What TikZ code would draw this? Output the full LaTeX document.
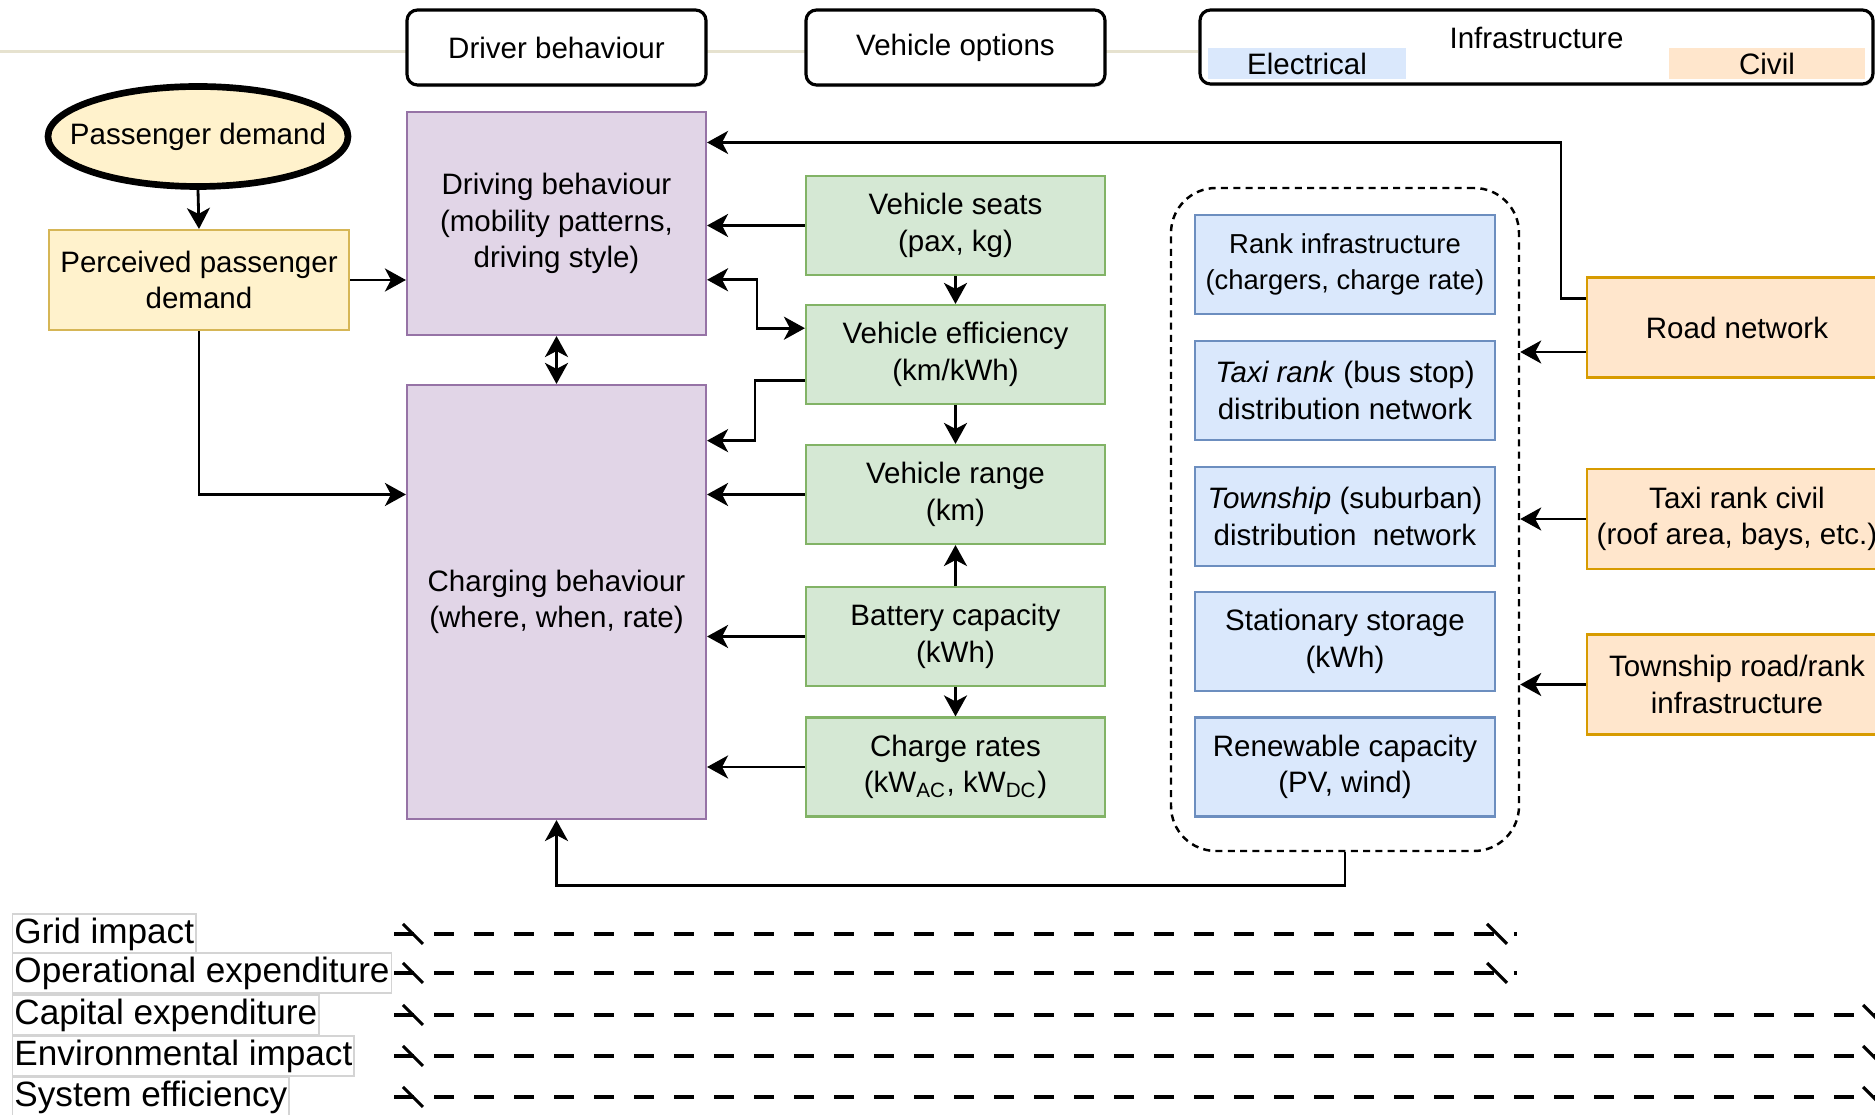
\documentclass[tikz,border=0pt]{standalone}
\usepackage{fontspec}
\setmainfont{Liberation Sans}
\usepackage{xcolor}
\usepackage{tikz}
\usetikzlibrary{arrows.meta,positioning,calc,backgrounds,shadows}

\definecolor{purplefill}{HTML}{E1D5E7}
\definecolor{purpleline}{HTML}{9673A6}
\definecolor{greenfill}{HTML}{D5E8D4}
\definecolor{greenline}{HTML}{82B366}
\definecolor{bluefill}{HTML}{DAE8FC}
\definecolor{blueline}{HTML}{6C8EBF}
\definecolor{orangefill}{HTML}{FFE6CC}
\definecolor{orangeline}{HTML}{D79B00}
\definecolor{yellowfill}{HTML}{FFF2CC}
\definecolor{yellowline}{HTML}{D6B656}
\definecolor{rulebeige}{HTML}{E6E2CF}
\definecolor{labelgrey}{HTML}{D4D4D4}

\begin{document}
\begin{tikzpicture}[
    box/.style={
        draw,
        line width=0.6pt,
        align=center,
        inner sep=2pt,
        font=\fontsize{8.4}{10.4}\selectfont
    },
    header/.style={
        box,
        line width=0.9pt,
        fill=white,
        rounded corners=3pt,
        drop shadow={shadow xshift=0.3pt,shadow yshift=-0.6pt,opacity=0.35},
        minimum height=0.75cm
    },
    purplebox/.style={box, fill=purplefill, draw=purpleline, minimum width=2.99cm},
    greenbox/.style={box, fill=greenfill, draw=greenline, minimum width=2.99cm, minimum height=0.99cm},
    bluebox/.style={box, fill=bluefill, draw=blueline, minimum width=3.0cm, minimum height=0.99cm},
    orangebox/.style={box, fill=orangefill, draw=orangeline, minimum width=3.0cm, minimum height=1.0cm},
    legendlabel/.style={
        draw=labelgrey,
        line width=0.4pt,
        fill=white,
        anchor=west,
        inner xsep=0.5pt,
        inner ysep=1pt,
        font=\fontsize{10}{12}\selectfont
    },
    arrow/.style={
        -{Stealth[length=0.21cm,width=0.23cm,inset=0.06cm]},
        line width=0.8pt
    },
    dblarrow/.style={
        {Stealth[length=0.21cm,width=0.23cm,inset=0.06cm]}-{Stealth[length=0.21cm,width=0.23cm,inset=0.06cm]},
        line width=0.8pt
    },
    impact/.style={
        line width=0.9pt,
        dash pattern=on 0.2cm off 0.2cm
    }
]

\useasboundingbox (0,0) rectangle (18.75,-11.15);

% ==================================================
% Column headers
% ==================================================

\node[header, minimum width=2.99cm] (hdrdriver) at (5.565,-0.475) {Driver behaviour};
\node[header, minimum width=2.99cm] (hdrvehicle) at (9.555,-0.475) {Vehicle options};
\node[header, minimum width=6.73cm, minimum height=0.74cm] (infra) at (15.365,-0.47) {};

\node[fill=bluefill, minimum width=1.98cm, minimum height=0.31cm, inner sep=0pt,
      font=\fontsize{8.4}{10.4}\selectfont] (elec) at (13.07,-0.635) {Electrical};
\node[fill=orangefill, minimum width=1.96cm, minimum height=0.31cm, inner sep=0pt,
      font=\fontsize{8.4}{10.4}\selectfont] (civ) at (17.67,-0.635) {Civil};
\node[font=\fontsize{8.4}{10.4}\selectfont, inner sep=0pt] (infratitle) at (15.365,-0.38) {Infrastructure};

\coordinate (ruleleft) at (0,-0.515);
\begin{scope}[on background layer]
    \draw[rulebeige, line width=0.6pt] (ruleleft) -- (ruleleft -| infra.west);
\end{scope}

% ==================================================
% Demand
% ==================================================

% Thick-rimmed ellipse around the demand text
\draw[fill=yellowfill, line width=1.9pt] (1.98,-1.365) ellipse (1.5cm and 0.5cm);
\node[
    align=center,
    outer sep=0pt,
    font=\fontsize{8.4}{10.4}\selectfont,
    minimum width=3.07cm,
    minimum height=1.07cm
] (pdem) at (1.98,-1.365)
{Passenger demand};

\node[
    box,
    fill=yellowfill,
    draw=yellowline,
    minimum width=3.0cm,
    minimum height=1.0cm
] (ppd) at (1.99,-2.8)
{Perceived passenger\\demand};

% ==================================================
% Driver behaviour
% ==================================================

\node[purplebox, minimum height=2.23cm] (drive) at (5.565,-2.235)
{Driving behaviour\\(mobility patterns,\\driving style)};

\node[purplebox, minimum height=4.34cm] (charge) at (5.565,-6.02)
{Charging behaviour\\(where, when, rate)};

% ==================================================
% Vehicle options
% ==================================================

\node[greenbox] (seats) at (9.555,-2.255) {Vehicle seats\\(pax, kg)};
\node[greenbox] (eff) at (9.555,-3.545) {Vehicle efficiency\\(km/kWh)};
\node[greenbox] (range) at (9.555,-4.945) {Vehicle range\\(km)};
\node[greenbox] (battery) at (9.555,-6.365) {Battery capacity\\(kWh)};
\node[greenbox] (rates) at (9.555,-7.67)
{Charge rates\\(kW\textsubscript{AC}, kW\textsubscript{DC})};

% ==================================================
% Electrical infrastructure
% ==================================================

\node[
    draw,
    dash pattern=on 2pt off 1.5pt,
    line width=0.7pt,
    rounded corners=0.45cm,
    minimum width=3.48cm,
    minimum height=6.63cm
] (grp) at (13.45,-5.195) {};

\node[bluebox, font=\fontsize{7.8}{10.4}\selectfont] (rank) at (13.45,-2.645)
{Rank infrastructure\\(chargers, charge rate)};
\node[bluebox] (taxi) at (13.45,-3.905)
{\textit{Taxi rank} (bus stop)\\distribution network};
\node[bluebox] (town) at (13.45,-5.165)
{\textit{Township} (suburban)\\distribution~ network};
\node[bluebox] (storage) at (13.45,-6.415) {Stationary storage\\(kWh)};
\node[bluebox] (renew) at (13.45,-7.67) {Renewable capacity\\(PV, wind)};

% ==================================================
% Civil infrastructure
% ==================================================

\node[orangebox] (road) at (17.37,-3.275) {Road network};
\node[orangebox] (civil) at (17.37,-5.19) {Taxi rank civil\\(roof area, bays, etc.)};
\node[orangebox] (twnroad) at (17.37,-6.845) {Township road/rank\\infrastructure};

% ==================================================
% Arrows
% ==================================================

\draw[arrow] (pdem.south) -- (ppd.north);
\draw[arrow] (ppd.east) -- (ppd.east -| drive.west);
\draw[arrow] (ppd.south) |- (range.west -| charge.west);

\draw[dblarrow] (drive.south) -- (charge.north);

\draw[arrow] (seats.west) -- (seats.west -| drive.east);
\draw[dblarrow] ($(drive.north east)!0.75!(drive.south east)$) -- ++(0.5,0)
    |- ($(eff.north west)!0.24!(eff.south west)$);
\draw[arrow] ($(eff.north west)!0.76!(eff.south west)$) -- ++(-0.5,0)
    |- ($(charge.north east)!0.13!(charge.south east)$);
\draw[arrow] (range.west) -- (range.west -| charge.east);
\draw[arrow] (battery.west) -- (battery.west -| charge.east);
\draw[arrow] (rates.west) -- (rates.west -| charge.east);

\draw[arrow] (seats.south) -- (eff.north);
\draw[arrow] (eff.south) -- (range.north);
\draw[arrow] (battery.north) -- (range.south);
\draw[arrow] (battery.south) -- (rates.north);

% Road network back to driving
\coordinate (roadhigh) at ($(road.north west)!0.22!(road.south west)$);
\coordinate (roadlow) at ($(road.north west)!0.74!(road.south west)$);
\draw[arrow] (roadhigh) -- ++(-0.25,0) |- ($(drive.north east)!0.14!(drive.south east)$);
\draw[arrow] (roadlow) -- (roadlow -| grp.east);
\draw[arrow] (civil.west) -- (civil.west -| grp.east);
\draw[arrow] (twnroad.west) -- (twnroad.west -| grp.east);

% Infrastructure feeds charging
\draw[arrow] (grp.south) -- ++(0,-0.33) -| (charge.south);

% ==================================================
% Impacts
% ==================================================

\node[legendlabel] (grid) at (0.12,-9.34) {Grid impact};
\node[legendlabel] (opex) at (0.12,-9.73) {Operational expenditure};
\node[legendlabel] (capex) at (0.12,-10.15) {Capital expenditure};
\node[legendlabel] (env) at (0.12,-10.56) {Environmental impact};
\node[legendlabel] (sys) at (0.12,-10.97) {System efficiency};

\foreach \yy/\xe in {-9.34/15.17, -9.73/15.17, -10.15/18.93, -10.56/18.93, -10.97/18.93} {
    \draw[impact] (3.94,\yy) -- (\xe,\yy);
    \draw[line width=0.9pt] (4.03,\yy+0.1) -- ++(0.2,-0.2);
    \draw[line width=0.9pt] (\xe-0.3,\yy+0.1) -- ++(0.2,-0.2);
}

\end{tikzpicture}
\end{document}
